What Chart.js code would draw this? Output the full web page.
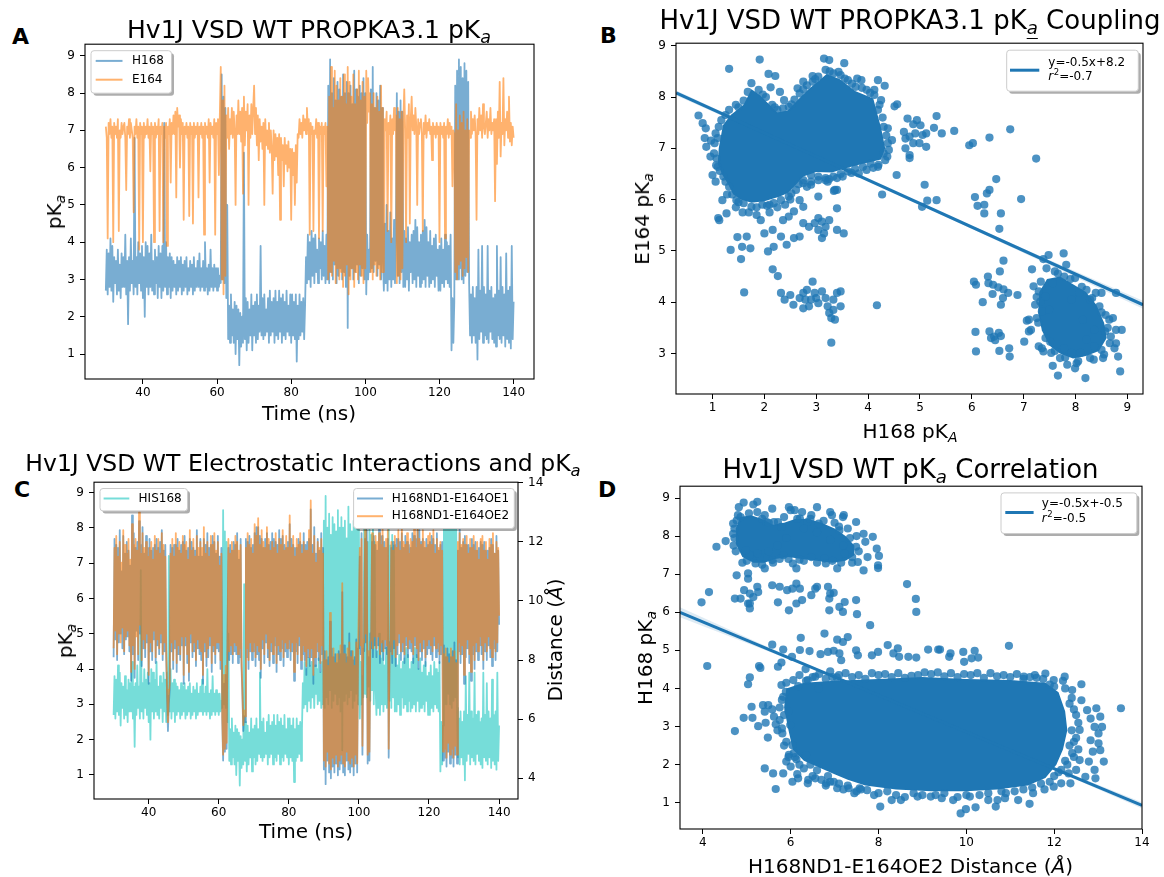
<!DOCTYPE html>
<html><head><meta charset="utf-8">
<script src="https://cdn.jsdelivr.net/npm/chart.js@4.4.0/dist/chart.umd.min.js"></script>
<style>
html,body{margin:0;padding:0;background:#fff;}
body{width:1164px;height:877px;position:relative;overflow:hidden;font-family:"DejaVu Sans",sans-serif;color:#000;}
canvas{position:absolute;}
.t{position:absolute;white-space:nowrap;line-height:1;transform:translate(-50%,-50%);}
.r{transform:translate(-50%,-50%) rotate(-90deg);}
.lbl{position:absolute;font-family:"DejaVu Sans",sans-serif;font-weight:bold;font-size:22px;line-height:1;}
.s{font-size:0.7em;position:relative;top:0.3em;font-style:italic;}
</style></head><body>
<canvas id="cA"></canvas><canvas id="cB"></canvas><canvas id="cC"></canvas><canvas id="cD"></canvas>

<div class="lbl" style="left:12px;top:26px">A</div>
<div class="lbl" style="left:600px;top:25px">B</div>
<div class="lbl" style="left:14px;top:479px">C</div>
<div class="lbl" style="left:598px;top:479px">D</div>

<div class="t" style="left:309px;top:28.5px;font-size:25px">Hv1J VSD WT PROPKA3.1 pK<span class="s">a</span></div>
<div class="t" style="left:910px;top:19.5px;font-size:26px">Hv1J VSD WT PROPKA3.1 pK<span class="s" style="text-decoration:underline;text-underline-offset:4px">a</span> Coupling</div>
<div class="t" style="left:303px;top:464px;font-size:23.5px">Hv1J VSD WT Electrostatic Interactions and pK<span class="s">a</span></div>
<div class="t" style="left:910.5px;top:468.5px;font-size:26px">Hv1J VSD WT pK<span class="s">a</span> Correlation</div>

<div class="t r" style="left:53.5px;top:212px;font-size:20px">pK<span class="s">a</span></div>
<div class="t" style="left:309px;top:413px;font-size:20px">Time (ns)</div>
<div class="t r" style="left:642px;top:219px;font-size:20px">E164 pK<span class="s">a</span></div>
<div class="t" style="left:910px;top:431px;font-size:20px">H168 pK<span class="s">A</span></div>
<div class="t r" style="left:65px;top:641px;font-size:20px">pK<span class="s">a</span></div>
<div class="t" style="left:306px;top:831px;font-size:20px">Time (ns)</div>
<div class="t r" style="left:555px;top:640px;font-size:20px">Distance (<i>Å</i>)</div>
<div class="t r" style="left:645px;top:658px;font-size:20px">H168 pK<span class="s">a</span></div>
<div class="t" style="left:910.5px;top:866px;font-size:20px">H168ND1-E164OE2 Distance (<i>Å</i>)</div>

<script>
// ---------- time series (sampled every 0.25 ns from 30 ns to 140 ns) ----------
const t0 = 30, dt = 0.25;
const h168 = [
2.7,3.8,2.6,3.7,2.8,4.1,2.7,3.9,2.4,3.6,2.9,3.5,2.6,3.8,2.7,3.4,2.5,3.7,2.8,3.6,
2.8,4.2,2.6,3.5,1.8,3.6,2.7,4.1,2.9,3.5,2.6,6.8,2.8,3.6,2.6,4.0,2.9,3.7,2.7,3.9,
2.5,3.6,2.0,4.0,2.8,3.9,2.6,3.7,2.8,4.2,2.7,3.5,2.6,3.8,2.9,3.6,2.5,3.9,2.8,3.7,
2.5,3.9,2.7,7.2,2.8,4.0,2.6,3.6,2.8,3.7,2.5,3.6,2.7,3.5,2.8,3.4,2.6,3.6,2.7,3.5,
2.8,3.6,2.6,3.4,2.7,3.5,2.8,3.6,2.6,3.3,2.7,3.5,2.8,3.4,2.6,3.6,2.7,3.3,2.8,3.5,
2.8,3.7,2.7,3.3,2.8,3.5,2.7,4.0,2.8,3.3,2.6,3.4,2.7,3.8,2.8,3.3,2.7,3.4,2.8,3.3,
2.7,3.3,2.8,3.1,2.9,8.5,3.0,7.9,2.9,7.6,2.5,5.0,1.4,2.3,1.3,2.6,1.5,2.2,1.3,2.4,
1.0,2.3,1.4,2.2,0.7,2.1,1.2,2.0,1.3,6.4,1.4,2.5,1.1,2.4,1.3,2.2,1.5,2.6,1.1,2.3,
1.5,2.4,1.3,2.6,1.4,2.3,1.6,3.9,1.5,2.5,1.4,2.6,1.5,2.2,1.6,2.5,1.3,2.7,1.5,2.4,
1.6,2.5,1.3,2.7,1.5,2.4,1.4,2.7,1.6,2.5,1.3,2.6,1.5,2.4,1.4,2.7,1.6,2.3,1.5,2.6,
1.3,2.6,1.5,2.4,1.4,2.6,0.8,2.3,1.4,2.6,1.5,2.4,1.6,2.5,1.4,2.3,3.6,2.9,4.2,3.0,
4.0,2.8,4.3,3.1,4.1,2.9,4.2,3.2,3.8,2.9,4.1,3.3,4.0,3.0,4.3,3.1,3.9,2.9,4.2,3.0,
8.2,2.9,8.9,3.2,8.0,3.0,8.4,3.4,7.8,2.9,8.3,3.1,8.1,3.3,7.9,3.0,8.5,3.2,8.0,2.8,
8.3,1.7,8.0,3.1,8.2,3.3,7.7,3.0,8.6,3.2,8.1,3.4,7.9,2.9,8.2,3.1,8.0,3.3,8.4,3.0,
8.0,2.6,4.2,3.0,3.8,3.2,8.1,3.3,8.7,3.2,7.6,3.5,8.0,3.1,7.8,3.4,8.2,3.0,7.6,3.5,
2.7,4.5,2.9,5.0,2.7,4.3,3.0,4.8,2.8,4.1,3.0,4.6,2.9,4.2,8.0,3.1,7.5,2.9,7.8,3.2,
7.5,2.8,4.3,2.8,4.1,3.0,4.4,2.7,4.0,3.2,4.2,2.9,4.3,3.0,4.6,2.8,4.4,3.1,4.0,2.8,
4.2,2.9,4.3,3.0,4.6,2.8,4.4,3.1,4.0,2.8,4.3,2.9,3.9,3.0,4.1,2.8,4.2,3.1,3.8,2.7,
3.9,2.7,4.1,2.9,3.8,2.8,4.2,3.0,4.0,2.9,3.9,2.8,4.2,1.1,2.5,1.3,2.4,8.2,3.0,8.6,
3.0,8.9,3.3,8.7,3.0,8.4,2.9,8.8,3.1,8.6,3.2,8.3,2.9,1.5,2.6,1.3,2.8,1.5,2.5,1.3,
2.8,0.85,3.8,1.4,2.7,1.6,3.9,1.3,2.8,1.5,2.6,1.4,3.9,1.3,2.7,1.6,2.8,1.4,2.5,1.3,
2.6,1.2,3.9,1.5,2.7,1.4,3.6,1.3,2.8,1.5,2.6,1.2,3.7,1.4,2.7,1.3,2.8,1.15,3.9,1.4,
2.4];
const e164 = [
7.1,6.8,4.1,7.2,6.9,7.3,6.8,7.1,4.0,7.2,6.9,7.1,6.8,7.3,4.3,7.0,6.8,7.2,6.9,7.1,
7.2,6.8,5.4,7.1,6.9,7.3,6.8,7.2,7.0,6.8,4.8,7.1,6.9,7.3,6.8,7.1,3.8,7.2,6.9,7.1,
4.0,7.2,6.8,7.1,6.9,7.3,6.8,7.1,5.9,7.2,6.9,7.1,4.0,7.2,6.8,7.1,6.9,7.3,4.3,7.1,
6.9,7.2,4.0,7.1,6.8,7.2,3.9,7.1,6.9,7.3,5.6,7.2,6.9,7.4,6.9,7.5,5.2,7.6,7.1,7.4,
6.0,7.3,6.9,7.2,4.6,7.1,6.9,7.2,6.8,7.1,4.7,7.2,6.9,7.1,4.5,7.2,6.8,7.1,6.9,7.2,
5.2,7.1,6.9,7.2,6.8,7.1,4.2,7.2,6.9,7.1,6.8,7.3,5.6,7.2,6.9,7.1,6.8,7.3,4.2,7.2,
6.9,7.3,5.8,7.4,8.7,3.0,7.8,2.6,8.2,3.1,7.4,6.8,7.6,6.5,7.3,6.9,7.6,6.8,7.5,7.0,
5.0,7.4,6.9,7.8,6.9,7.5,6.7,7.6,5.3,7.9,6.6,7.5,7.0,7.7,5.0,7.4,6.8,7.7,6.9,7.6,
8.2,6.9,7.6,6.6,7.4,6.2,7.3,6.7,7.1,6.5,7.2,5.0,7.3,6.6,7.0,6.5,7.2,6.4,7.0,6.5,
5.3,7.0,6.2,6.9,6.3,6.8,5.8,6.9,4.6,6.8,6.2,6.6,5.5,6.8,6.1,6.6,5.9,6.7,6.0,6.5,
4.6,6.5,5.8,6.4,5.0,6.6,5.6,6.9,6.8,7.3,6.9,7.2,6.8,7.4,7.0,7.3,6.9,7.6,7.0,7.3,
4.2,7.2,6.9,7.1,4.3,7.0,6.9,7.3,6.8,7.2,4.1,7.1,6.9,7.2,4.3,7.1,6.9,7.2,5.5,7.1,
3.0,7.9,3.2,8.7,3.1,7.6,3.5,8.6,2.9,8.2,3.3,7.8,3.0,8.4,3.2,7.9,2.8,8.5,3.1,7.7,
3.4,8.7,2.6,8.3,3.0,7.9,3.3,8.5,2.8,7.7,3.2,8.1,3.0,8.6,3.4,7.8,3.1,8.3,2.9,7.9,
3.3,8.6,7.2,8.4,7.5,8.0,3.2,7.7,3.0,8.0,3.4,7.6,3.1,7.9,3.3,7.5,3.0,8.2,3.2,7.6,
3.2,7.3,7.0,7.5,4.3,7.2,6.9,7.4,4.0,7.3,6.9,7.6,7.0,7.4,2.9,7.6,3.1,7.3,3.0,7.5,
3.3,7.2,8.1,7.0,4.0,7.4,6.8,7.7,4.5,7.3,7.9,7.0,7.4,6.9,7.6,7.1,5.0,7.3,6.9,7.2,
7.3,6.9,4.3,7.2,6.9,7.4,6.8,7.2,7.0,7.3,6.9,7.1,6.2,7.2,6.9,7.1,6.8,7.2,6.9,7.1,
4.0,7.2,6.9,7.1,6.8,7.2,4.1,7.1,6.9,7.3,6.8,7.2,6.9,7.1,5.5,7.0,6.9,3.2,7.7,3.0,
7.0,3.4,7.4,3.5,7.2,3.1,7.5,3.3,7.0,3.6,7.3,3.2,7.0,6.8,7.5,6.9,7.3,7.0,7.4,6.9,
4.6,7.3,6.9,7.6,7.0,7.4,6.8,7.7,7.1,6.9,7.2,7.5,6.8,7.3,7.0,7.6,6.9,7.2,7.0,7.3,
5.1,7.3,6.1,7.5,6.8,8.3,6.3,7.2,6.9,8.4,6.6,7.3,7.0,7.5,6.8,7.9,6.7,7.2,6.6,7.1,
6.8];
const oe1 = [
8.1,12.1,8.7,11.9,8.0,11.8,8.6,12.4,8.9,11.0,8.4,12.2,8.2,11.6,8.7,12.0,8.8,11.7,8.3,11.2,
7.3,12.9,8.2,12.3,7.4,11.8,9.0,12.0,8.0,12.7,8.9,11.9,7.8,12.5,8.4,11.6,8.1,12.2,8.6,11.8,
7.2,12.1,8.3,11.7,8.0,11.8,8.7,11.9,7.9,12.1,8.5,11.8,8.2,12.0,8.6,12.4,8.0,11.7,8.3,11.9,
8.1,6.8,5.6,6.5,7.0,11.9,8.3,11.8,7.7,11.9,8.4,11.9,7.6,12.1,8.2,11.7,8.0,11.9,8.5,12.0,
7.2,12.2,8.5,11.7,7.9,11.8,7.3,12.1,8.6,12.0,8.1,11.8,8.3,11.7,7.8,12.4,8.4,11.5,8.2,12.1,
8.0,11.5,7.2,12.1,8.3,11.9,7.8,12.3,8.1,11.8,8.5,11.9,7.6,12.2,8.3,12.0,7.9,11.6,8.4,12.2,
8.3,11.5,7.7,11.8,6.0,4.6,7.2,4.9,7.5,5.0,8.5,11.8,8.0,11.9,8.2,11.7,7.9,12.0,8.3,11.9,
8.2,12.3,7.9,11.4,8.1,12.1,7.8,6.8,5.6,6.1,5.9,12.1,8.1,12.0,7.7,12.2,8.3,11.8,8.0,11.9,
8.3,12.3,7.8,12.5,8.2,12.5,8.0,12.2,7.4,12.1,8.4,11.8,7.9,12.1,8.6,12.3,8.1,11.9,7.8,12.0,
8.3,12.3,7.9,12.1,8.5,12.0,7.6,11.9,8.2,12.4,8.0,12.1,8.4,12.2,7.8,11.9,8.3,11.8,8.1,12.0,
8.4,12.6,8.0,12.1,8.3,11.9,7.3,11.8,8.3,11.8,7.9,12.1,8.5,12.0,7.7,11.9,8.2,12.3,8.0,11.9,
7.5,12.0,8.1,12.1,7.8,13.1,8.1,11.9,7.2,12.5,7.8,11.6,8.3,12.1,8.0,11.7,7.6,12.3,8.2,11.8,
4.3,8.3,3.8,8.0,4.6,8.1,4.2,9.3,4.0,8.4,4.4,8.1,4.2,8.2,4.5,7.9,4.1,8.3,4.3,8.2,
4.5,10.3,4.2,8.5,4.1,8.2,4.6,8.1,4.3,8.9,4.2,8.3,4.4,8.0,4.1,8.1,4.5,8.7,4.2,8.4,
8.5,11.5,8.2,12.3,4.8,8.4,8.3,12.1,8.6,12.4,4.5,8.1,4.6,8.9,8.4,12.0,8.1,12.2,8.5,11.9,
8.1,11.7,8.5,12.6,7.9,12.2,8.3,12.2,8.0,12.0,8.4,11.8,8.2,12.1,4.7,8.6,8.3,11.8,7.9,12.0,
8.4,11.9,7.8,12.1,8.2,12.1,8.6,12.0,8.0,12.3,8.3,11.8,7.9,12.2,8.5,12.0,8.1,11.9,8.4,11.8,
8.3,12.3,7.9,12.2,8.5,12.1,8.1,12.4,7.7,12.4,8.3,12.0,8.0,12.1,8.4,11.8,7.8,12.1,8.2,11.9,
8.4,12.0,8.2,12.2,8.0,12.1,8.5,11.9,8.1,12.3,8.3,11.7,7.9,11.9,8.2,12.0,4.6,8.5,4.7,8.1,
4.4,8.4,4.9,8.2,4.5,8.1,4.7,8.3,4.4,8.6,4.8,8.0,4.5,11.7,8.3,12.6,7.9,11.8,8.2,12.0,
7.2,12.2,8.1,11.9,8.4,11.9,7.9,11.8,7.3,12.1,8.2,11.9,7.7,12.0,8.3,11.7,8.0,11.8,8.5,12.0,
8.2,11.9,7.7,12.0,8.3,11.7,8.0,11.7,8.5,11.8,8.1,12.1,7.8,11.9,8.4,11.6,8.0,12.2,8.3,11.7,
9.2];
const oe2 = [
8.4,11.8,9.0,12.2,8.2,11.5,8.9,12.0,8.6,11.3,9.1,12.4,8.3,11.9,8.8,11.6,9.0,12.1,8.5,11.4,
7.6,12.6,8.5,11.9,7.7,12.1,8.8,11.7,8.2,13.0,9.2,11.6,8.0,12.3,8.7,11.8,8.4,12.0,8.9,11.5,
7.5,11.8,8.6,12.0,8.3,11.4,9.0,12.2,8.1,11.7,8.7,12.1,8.4,11.6,8.9,12.3,8.2,11.9,8.6,11.5,
8.4,7.0,5.9,6.8,7.2,11.6,8.6,12.1,8.0,11.5,8.7,12.3,7.9,11.8,8.5,12.0,8.2,11.6,8.8,12.2,
7.5,11.9,8.8,12.0,8.2,11.4,7.6,12.4,8.9,11.7,8.3,12.1,8.6,11.5,8.0,12.2,8.7,11.8,8.4,12.0,
8.3,11.8,7.5,12.5,8.6,11.6,8.1,12.0,8.4,11.5,8.8,12.2,7.9,11.9,8.5,12.3,8.2,11.7,8.6,12.0,
8.6,11.2,8.0,11.6,6.2,4.8,7.5,5.0,7.8,5.2,8.8,12.1,8.3,11.6,8.5,12.0,8.2,11.7,8.6,12.2,
8.5,12.0,8.2,11.7,8.4,11.9,8.0,7.0,5.8,6.3,6.1,11.8,8.4,12.3,8.0,11.9,8.6,12.1,8.3,11.6,
8.6,12.6,8.1,12.2,8.5,12.8,8.3,11.9,7.7,12.4,8.7,12.0,8.2,11.8,8.9,12.5,8.4,12.1,8.0,11.7,
8.6,12.0,8.2,11.8,8.8,12.3,7.9,11.6,8.5,12.1,8.3,11.9,8.7,12.4,8.1,11.7,8.6,12.2,8.4,11.8,
8.7,12.9,8.3,11.8,8.6,12.2,7.6,11.5,8.6,12.1,8.2,11.9,8.8,12.3,8.0,11.6,8.5,12.0,8.3,11.7,
7.8,11.7,8.4,12.4,8.1,13.4,8.4,11.6,7.5,12.2,8.1,11.3,8.6,12.0,8.3,11.8,7.9,12.1,8.5,11.6,
4.6,8.0,4.4,8.3,4.9,7.8,4.5,9.6,4.3,8.1,4.7,8.4,4.5,7.9,4.8,8.2,4.4,8.0,4.6,8.5,
4.8,10.6,4.5,8.2,4.4,7.9,4.9,8.4,4.6,8.6,4.5,8.1,4.7,8.3,4.4,7.8,4.8,8.6,4.5,8.2,
8.2,11.8,8.5,12.1,5.1,8.7,8.6,12.4,8.9,12.0,4.8,8.3,4.9,8.6,8.7,12.3,8.4,11.9,8.8,12.2,
8.4,12.0,8.8,12.3,8.2,11.9,8.6,12.5,8.3,11.8,8.7,12.1,8.5,12.4,5.0,8.3,8.6,12.0,8.2,11.7,
8.7,12.2,8.1,11.8,8.5,12.4,8.9,11.7,8.3,12.6,8.6,12.0,8.2,11.9,8.8,12.3,8.4,11.6,8.7,12.1,
8.6,12.0,8.2,12.5,8.8,11.8,8.4,12.7,8.0,12.1,8.6,11.9,8.3,12.4,8.7,12.0,8.1,11.8,8.5,12.2,
8.7,12.3,8.5,11.9,8.3,12.4,8.8,11.6,8.4,12.1,8.6,11.8,8.2,12.0,8.5,11.7,4.9,8.2,5.0,8.4,
4.7,8.1,5.2,7.9,4.8,8.4,5.0,8.1,4.7,8.3,5.1,7.9,4.8,12.0,8.6,12.3,8.2,11.9,8.5,12.1,
7.5,11.9,8.4,12.2,8.7,11.6,8.2,12.1,7.6,11.8,8.5,12.2,8.0,11.7,8.6,12.0,8.3,11.4,8.8,12.1,
8.5,12.2,8.0,11.7,8.6,12.0,8.3,11.4,8.8,12.1,8.4,11.9,8.1,12.3,8.7,11.6,8.3,12.0,8.6,11.8,
9.5];

// ---------- tick labels ----------
const ticksTime = [40,60,80,100,120,140];
const ticksPka = [1,2,3,4,5,6,7,8,9];
const ticksPkaB = [3,4,5,6,7,8,9];
const ticksDist = [4,6,8,10,12,14];
const ticksBx = [1,2,3,4,5,6,7,8,9];
const ticksDx = [4,6,8,10,12,14];

// ---------- panel B scatter (H168 pKa, E164 pKa) ----------
const bCore = [[1.12,7.0],[1.2,7.45],[1.35,7.65],[1.6,7.85],[1.75,8.15],[1.9,8.05],[2.05,7.9],[2.25,7.7],[2.45,7.74],[2.68,7.98],[2.85,8.15],[3.05,8.32],[3.2,8.45],[3.45,8.35],[3.75,8.12],[4.1,7.97],[4.17,7.7],[4.25,7.4],[4.33,7.0],[4.25,6.78],[3.9,6.7],[3.6,6.62],[3.3,6.53],[3.0,6.54],[2.75,6.45],[2.58,6.26],[2.45,6.13],[2.3,6.06],[2.0,5.97],[1.75,5.94],[1.55,6.0],[1.4,6.1],[1.3,6.3],[1.18,6.5],[1.1,6.7]];
const bCore2 = [[7.3,4.2],[7.45,4.45],[7.7,4.5],[7.95,4.35],[8.2,4.2],[8.4,3.95],[8.55,3.6],[8.6,3.3],[8.45,3.05],[8.2,2.95],[7.95,2.9],[7.7,3.0],[7.5,3.15],[7.35,3.45],[7.28,3.8]];
const bPts = [
[0.73,7.64],[0.81,7.49],[0.87,7.39],[0.85,7.2],[0.88,7.03],[0.96,6.84],[0.97,7.15],[1.0,6.48],[1.06,6.35],[1.07,6.67],[1.19,5.99],[1.11,5.64],[1.13,5.6],[1.27,5.73],[1.28,6.1],[1.35,5.02],[1.48,5.27],[1.55,4.84],[1.57,5.08],[1.66,5.28],[1.73,5.05],[1.61,4.19],[1.32,8.55],[1.91,8.73],[2.08,8.45],[2.21,8.41],[2.12,8.19],[2.3,8.1],[2.38,7.94],
[1.93,5.6],[2.0,5.34],[2.07,4.99],[2.16,4.64],[2.26,4.51],[2.18,5.08],[2.16,5.41],[2.32,5.28],[2.43,5.12],[2.57,5.25],[2.68,5.28],[2.36,5.6],[2.47,5.67],[2.57,5.77],[2.68,5.99],[2.52,6.12],[1.7,5.75],[1.85,5.7],[1.58,5.75],[1.45,5.85],[2.1,5.75],[2.25,5.85],[2.4,5.9],
[2.75,5.54],[2.86,5.47],[2.97,5.54],[3.04,5.41],[3.11,5.57],[3.15,5.34],[3.18,5.47],[3.11,5.25],[3.25,5.6],[3.04,5.64],[3.4,5.41],[3.53,5.34],[3.4,5.83],[3.36,6.19],[3.04,6.06],[2.82,6.25],[2.75,6.32],[2.9,6.35],[3.18,6.38],[3.4,6.19],[3.34,6.17],[2.75,5.86],
[2.32,4.18],[2.39,4.05],[2.56,3.95],[2.5,4.14],[2.68,4.08],[2.75,4.18],[2.82,4.24],[2.9,4.05],[2.93,4.4],[2.97,4.18],[2.86,3.92],[2.75,3.88],[3.04,3.98],[3.11,4.21],[3.18,4.08],[3.22,3.92],[3.25,3.79],[3.29,3.69],[3.36,3.66],[3.33,4.05],[3.4,4.18],[3.47,4.21],[3.47,3.92],[3.33,3.85],[3.0,4.08],[2.79,4.05],[3.29,3.21],[4.17,3.94],
[1.32,7.75],[1.45,7.85],[1.6,7.93],[1.75,8.27],[1.89,8.14],[2.03,8.0],[2.15,7.85],[2.25,7.75],[2.36,7.78],[2.47,7.81],[2.58,7.95],[2.68,8.07],[2.82,8.23],[2.93,8.3],[3.04,8.4],[3.18,8.53],[3.33,8.46],[3.47,8.43],[3.61,8.33],[3.76,8.2],[3.88,8.18],[3.97,8.14],[4.12,8.04],[4.19,7.75],[4.3,7.42],[4.4,6.97],[4.33,6.77],[4.2,6.68],[4.05,6.7],[3.9,6.64],[3.75,6.6],[3.61,6.55],[3.47,6.5],[3.33,6.45],[3.18,6.42],[3.04,6.45],[2.9,6.48],[2.75,6.38],[2.61,6.19],[2.47,6.06],[2.32,5.99],[2.18,5.93],[2.05,5.88],[1.96,5.9],[1.85,5.85],[1.75,5.86],[1.6,5.93],[1.46,5.99],[1.38,6.1],[1.32,6.25],[1.21,6.45],[1.1,6.64],[1.03,6.9],[1.04,7.1],[1.06,7.29],[1.17,7.55],[1.25,7.65],
[4.22,7.85],[4.28,7.6],[4.35,7.25],[4.38,7.1],[4.3,6.9],[4.1,6.62],[3.68,6.52],[3.25,6.4],[2.66,6.3],[2.5,6.0],[2.1,5.9],[1.5,5.95],[1.25,6.35],[1.14,6.56],[1.08,6.8],[1.1,7.2],[1.12,7.42],[1.5,7.8],[1.68,8.1],[1.97,8.05],[2.2,7.8],[2.52,7.86],[2.75,8.15],[2.98,8.35],[3.26,8.5],[3.55,8.36],[3.69,8.26],[4.04,8.08],
[3.15,8.75],[3.25,8.72],[3.54,8.66],[3.79,8.36],[3.87,8.33],[3.43,8.49],[2.93,8.41],[2.75,8.3],[2.64,8.17],[4.19,8.33],[4.12,8.14],[4.25,7.94],[4.38,7.39],[4.46,7.16],[4.37,6.84],[4.19,6.64],[3.97,6.58],[3.82,6.51],[3.51,6.45],[3.4,6.42],[3.22,6.35],[3.04,6.38],[2.9,6.29],
[4.32,8.22],[4.51,7.82],[4.56,7.86],[4.76,7.58],[4.87,7.47],[4.94,7.55],[5.01,7.45],[4.69,7.32],[4.8,7.23],[4.91,7.29],[5.05,7.26],[5.12,7.29],[4.72,7.19],[4.72,7.0],[4.87,7.1],[4.99,7.1],[5.12,7.03],[4.8,6.81],[4.8,6.87],[4.55,6.48],[4.27,6.1],[5.09,6.29],[5.14,5.98],[5.04,5.86],[5.32,5.99],[5.32,7.63],[5.27,7.4],[5.42,7.29],[5.66,7.34],[5.95,7.06],[6.02,7.1],[6.34,7.21],[6.74,7.37],[7.24,6.8],[6.95,6.01],
[6.06,6.05],[6.11,5.88],[6.24,5.9],[6.24,5.73],[6.29,6.12],[6.34,6.19],[6.47,6.4],[6.56,5.73],[6.53,5.43],[6.61,4.81],[6.54,4.6],[6.04,4.4],[6.08,4.34],[6.31,4.5],[6.32,4.37],[6.41,4.34],[6.51,4.29],[6.61,4.25],[6.7,4.18],[6.88,4.14],[6.4,4.16],[6.21,4.0],[6.56,3.95],[6.6,4.08],[6.07,3.42],[6.08,3.04],[6.34,3.43],[6.37,3.3],[6.43,3.33],[6.52,3.4],[6.56,3.34],[6.45,3.26],[6.53,3.05],[6.72,3.1],[6.73,2.94],[7.01,3.23],[7.06,3.64],[7.1,3.43],[7.16,4.64],
[7.38,4.84],[7.48,4.92],[7.77,4.95],[7.44,4.66],[7.66,4.56],[7.78,4.5],[7.99,4.47],[7.82,4.73],[7.19,4.31],[7.33,4.4],[7.29,4.21],[8.21,4.24],[8.39,4.18],[8.5,4.18],[8.28,4.05],[8.46,3.92],[8.58,3.75],[8.78,4.18],[8.65,3.66],[8.72,3.69],[8.89,3.46],[8.78,3.46],[8.57,3.43],[8.36,3.46],[8.68,3.33],[8.78,3.2],[8.75,3.1],[8.5,3.07],[8.36,3.14],[8.28,2.91],[8.53,2.91],[8.82,2.94],[8.86,2.65],[8.19,2.52],[7.99,2.71],[8.02,2.81],[7.84,2.78],[7.7,2.91],[7.66,2.57],[7.56,2.76],[7.53,3.01],[7.35,3.1],[7.38,3.04],[7.29,3.14],[7.1,3.66],[7.14,3.46],[7.25,3.69],[7.35,3.82],[7.32,4.01],[7.51,3.23],[7.78,3.1],[7.92,3.01],[8.1,3.01],[8.21,3.27],[8.14,3.66],[7.92,4.05],[7.42,4.11],[7.49,3.85],[8.07,4.18],[7.56,4.37],
[7.6,4.6],[7.9,4.45],[8.12,4.3],[8.32,4.08],[8.5,3.8],[8.62,3.5],[8.66,3.2],[8.55,2.98],[8.35,2.88],[8.05,2.85],[7.8,2.92],[7.6,3.05],[7.42,3.3],[7.28,3.6],[7.22,3.95],[7.25,4.1]
];
const bFitX = [0.3, 9.3], bFitY = [8.08, 3.95];
const bBandX = [0.3, 3, 5, 7, 9.3], bBandHi = [8.13, 6.86, 5.94, 5.04, 4.03], bBandLo = [8.03, 6.82, 5.90, 4.96, 3.87];

// ---------- panel D scatter (OE2 distance, H168 pKa) ----------
const dCore = [[5.9,4.0],[6.3,4.15],[7.0,4.2],[8.0,4.25],[9.0,4.3],[10.0,4.25],[11.0,4.22],[11.8,4.15],[12.1,3.9],[12.25,3.4],[12.3,2.9],[12.2,2.4],[12.05,2.0],[11.8,1.65],[11.4,1.45],[10.7,1.35],[10.0,1.3],[9.2,1.3],[8.4,1.35],[7.7,1.45],[7.3,1.6],[7.0,1.75],[6.7,1.9],[6.3,2.1],[6.05,2.4],[5.95,2.9],[5.85,3.5]];
const dCoreTop = [[4.75,8.2],[4.85,8.5],[5.1,8.55],[5.35,8.45],[5.6,8.3],[5.85,8.35],[6.1,8.45],[6.4,8.45],[6.7,8.35],[7.0,8.2],[7.25,8.0],[7.45,7.75],[7.45,7.5],[7.25,7.35],[6.95,7.3],[6.6,7.35],[6.25,7.4],[5.95,7.45],[5.65,7.4],[5.4,7.3],[5.15,7.3],[4.9,7.45],[4.75,7.8]];
const dPts = [
[4.31,7.72],[4.52,7.87],[4.69,8.33],[4.69,8.06],[4.77,8.41],[4.86,8.5],[4.82,8.76],[4.93,8.88],[5.15,8.83],[5.24,8.9],[5.24,8.63],[5.41,8.55],[5.58,8.72],[5.45,8.37],[5.62,8.37],[5.71,8.37],[5.79,8.24],[5.96,8.76],[6.0,8.68],[6.09,8.68],[6.26,8.63],[6.21,8.46],[6.47,8.55],[6.6,8.76],[6.38,8.37],[6.64,8.33],[6.9,8.63],[6.94,8.55],[7.19,8.5],[7.21,8.55],[7.11,8.15],[7.49,8.37],[7.66,8.06],[7.87,7.98],[7.96,7.67],[8.01,7.48],[7.99,7.23],[7.99,7.16],[7.66,7.1],[7.53,7.32],[7.49,7.72],[7.23,7.54],[7.06,7.15],[6.77,7.41],[6.47,7.45],[6.13,7.15],[6.05,7.28],[5.83,7.5],[5.58,7.37],[5.41,7.15],[5.2,7.28],[5.07,7.5],[4.98,7.63],[4.72,7.95],[4.75,7.6],[4.9,7.3],[5.3,7.45],[5.5,7.6],[5.7,7.75],[5.9,7.95],[6.3,8.2],[6.6,8.1],[6.9,7.9],[7.2,7.75],[7.4,7.45],[6.95,7.35],[6.6,7.3],[6.3,7.35],[5.95,7.4],[5.6,7.3],[5.25,7.55],[4.8,8.55],[5.05,8.6],[5.35,8.45],[5.85,8.5],[6.15,8.45],[6.75,8.4],[7.0,8.35],[7.3,8.2],[7.5,8.0],[7.7,7.85],[7.75,7.45],[7.55,7.6],[7.35,7.95],[7.1,8.25],[6.45,8.45],[5.5,8.35],[4.72,8.2],[4.7,7.75],[5.0,7.35],[5.35,7.25],[5.75,7.4],[6.2,7.38],[6.8,7.28],[7.15,7.3],[7.4,7.3],
[4.77,6.97],[5.03,7.02],[5.03,6.88],[4.73,6.36],[4.86,6.36],[4.94,6.58],[5.07,6.49],[5.15,6.4],[5.03,6.23],[5.07,6.1],[5.26,6.53],[5.24,6.67],[5.07,6.23],[3.97,6.26],[4.14,6.53],[4.1,4.59],[5.58,6.71],[5.75,6.67],[5.92,6.58],[6.13,6.75],[6.21,6.62],[6.04,6.62],[5.71,6.26],[5.96,6.05],[6.13,6.23],[6.26,6.32],[6.47,6.45],[6.56,6.62],[6.6,6.67],[6.85,6.67],[6.9,6.49],[6.98,6.51],[6.88,6.36],[6.88,6.05],[7.11,6.14],[7.19,6.01],[7.23,6.27],[7.49,6.32],[7.51,5.95],[7.81,5.66],[8.65,6.74],[8.85,6.35],[8.86,6.01],
[6.77,5.44],[7.06,5.28],[7.3,5.35],[7.19,5.22],[6.23,5.33],[5.58,5.15],[5.83,5.02],[6.21,5.01],[6.43,4.98],[6.03,4.83],[6.68,4.9],[6.85,4.96],[6.98,4.99],[7.11,4.92],[7.15,4.74],[7.49,5.0],[7.53,4.87],[7.85,4.87],[7.99,4.96],[8.21,5.14],[8.34,4.92],[8.44,5.05],[8.47,4.83],[8.68,4.83],[8.86,4.81],[9.13,5.02],[9.36,5.02],[9.4,5.02],[9.64,4.92],[9.61,4.83],[9.93,4.96],[9.95,4.7],[10.12,4.79],[10.19,4.99],[10.27,4.81],[10.97,5.12],[6.34,4.51],[5.79,4.68],[5.71,4.57],[5.28,4.59],[5.31,4.54],[5.07,4.29],[5.03,4.11],[6.56,4.31],[7.05,4.29],
[5.37,3.56],[5.49,3.56],[5.58,3.45],[5.41,3.39],[5.62,3.26],[5.75,3.17],[5.11,3.52],[4.93,3.23],[5.13,3.23],[5.26,3.01],[5.43,3.1],[5.48,2.71],[4.73,2.88],[5.66,3.06],[5.81,2.82],[5.83,3.78],[5.79,4.09],[5.89,3.91],[6.06,4.22],[6.17,4.06],[6.39,4.22],[6.64,4.0],[5.99,3.04],[6.04,2.51],[6.07,2.3],[5.9,2.08],[5.96,2.26],[6.13,2.14],[5.83,1.77],[5.6,1.77],[5.41,1.9],[5.66,1.36],[6.04,1.55],[6.17,1.64],[6.39,1.51],[6.56,1.64],[6.81,1.51],[6.98,1.55],[7.06,1.38],[7.32,1.38],[7.45,1.25],[7.57,1.38],[7.74,1.33],[8.04,0.9],[8.3,1.07],[8.51,1.07],[8.89,1.16],[9.19,1.16],[9.44,1.12],[9.7,1.07],[9.87,0.72],[9.99,0.83],[10.21,0.88],[10.08,1.16],[10.5,1.07],[10.67,0.9],[10.71,1.07],[10.88,1.12],[11.18,1.07],[11.44,0.97],[11.52,1.25],[11.78,1.35],[11.99,1.42],[12.16,1.51],[12.37,1.51],[12.71,1.68],[12.94,1.64],[12.79,2.08],[12.92,1.86],[13.13,2.08],[12.88,2.34],[13.05,2.38],[13.01,2.56],[12.83,2.64],[13.01,2.82],[12.92,2.99],[13.05,3.26],[12.96,3.48],[12.75,3.43],[12.83,3.21],[12.62,3.69],[12.41,3.96],[12.62,4.11],[12.24,4.31],[11.99,4.22],[11.8,4.39],[11.56,4.35],[11.31,4.31],[13.52,3.48],[13.09,2.99],[12.58,2.91],[12.58,2.12],[12.41,2.3],[12.5,1.86],[12.33,1.77],[12.16,1.86],[12.45,2.6],[12.5,3.3],[12.35,3.6],[12.55,2.4],
[6.5,4.3],[6.8,4.25],[7.1,4.35],[7.4,4.3],[7.7,4.25],[8.0,4.35],[8.3,4.3],[8.6,4.28],[8.9,4.35],[9.2,4.38],[9.5,4.32],[9.8,4.3],[10.1,4.35],[10.4,4.28],[10.7,4.32],[11.0,4.3],[11.3,4.25],[11.6,4.28],[6.9,4.45],[9.35,4.42],[10.55,4.4],[12.0,4.05],
[6.2,4.35],[6.35,4.2],[6.65,4.38],[6.95,4.3],[7.25,4.4],[7.55,4.35],[7.85,4.4],[8.15,4.38],[8.45,4.4],[8.75,4.33],[9.05,4.42],[9.65,4.4],[9.95,4.38],[10.25,4.4],[10.85,4.35],[11.15,4.38],[11.45,4.3],[11.75,4.25],[11.9,4.1],
[7.2,1.35],[7.5,1.3],[7.9,1.2],[8.2,1.3],[8.6,1.15],[9.0,1.2],[9.5,1.25],[10.0,1.2],[10.5,1.25],[10.8,1.3],[11.1,1.3],[11.5,1.4],[11.9,1.55],[12.1,1.8],[6.8,1.45],[6.4,1.6],
[12.3,2.0],[12.45,2.2],[12.5,2.7],[12.55,3.1],[12.45,3.45],[12.4,3.75],[12.25,4.0],[12.2,4.2],
[5.8,3.7],[5.85,3.3],[5.8,2.95],[5.85,2.5],[5.95,2.2],[5.75,3.5],[5.7,2.9],[5.9,4.15],
[6.3,1.9],[6.5,1.7],[6.7,1.6],[6.9,1.55],[6.2,2.0],[6.45,2.0],[6.6,1.85],[6.85,1.7],[7.1,1.5],[6.1,2.2],[6.35,2.25],[6.15,1.75],[6.0,1.95],[7.3,1.45],[7.6,1.35],[8.0,1.25],[8.4,1.2],[8.8,1.25],[9.3,1.2],[9.8,1.15],[10.3,1.2],[10.9,1.25],[11.3,1.35],[11.7,1.5],[12.0,1.7],[12.25,2.1],[12.35,2.5],[12.4,2.9],[5.95,3.4],[5.9,2.6]
];
const dFitX = [3.48, 14], dFitY = [6.0, 0.93];
const dBandX = [3.48, 6, 9, 12, 14], dBandHi = [6.13, 4.82, 3.36, 1.93, 1.01], dBandLo = [5.87, 4.75, 3.32, 1.86, 0.85];

// ---------- styling / helpers ----------
const FONT = 'DejaVu Sans';
Chart.defaults.font.family = FONT;
Chart.defaults.color = '#000';
const BLUE_A = 'rgba(31,119,180,0.6)', ORANGE_A = 'rgba(255,127,14,0.6)', CYAN = 'rgba(72,209,204,0.75)';

function ax(pos, min, max, ticks, size) {
  const horiz = pos === 'bottom';
  return {
    type: 'linear', position: pos, min: min, max: max,
    afterBuildTicks: function (s) { s.ticks = ticks.map(function (v) { return { value: v }; }); },
    afterFit: function (s) { if (horiz) s.height = size; else s.width = size; },
    ticks: { autoSkip: false, maxRotation: 0, minRotation: 0, padding: horiz ? 2 : 5, color: '#000', font: { family: FONT, size: 12 } },
    grid: { drawOnChartArea: false, drawTicks: true, tickLength: 5, color: '#000', lineWidth: 1 },
    border: { display: false }
  };
}
function series(vals, color, order, axisId) {
  return { type: 'line', showLine: true, data: vals.map(function (v, i) { return { x: t0 + i * dt, y: v }; }),
    borderColor: color, borderWidth: 1.8, pointRadius: 0, tension: 0, fill: false,
    borderJoinStyle: 'round', clip: 0, order: order, yAxisID: axisId || 'y' };
}
function dots(pts) {
  return { type: 'scatter', data: pts.map(function (p) { return { x: p[0], y: p[1] }; }),
    backgroundColor: 'rgba(31,119,180,0.8)', borderWidth: 0, pointRadius: 4.1, pointHoverRadius: 4.1, clip: 0, order: 5 };
}
function xy(xs, ys) { return xs.map(function (x, i) { return { x: x, y: ys[i] }; }); }
function fitSets(fx, fy, bx, bhi, blo) {
  return [
    { type: 'line', showLine: true, data: xy(bx, bhi), borderWidth: 0, pointRadius: 0, fill: '+1', backgroundColor: 'rgba(31,119,180,0.15)', clip: 0, order: 2 },
    { type: 'line', showLine: true, data: xy(bx, blo), borderWidth: 0, pointRadius: 0, fill: false, clip: 0, order: 2 },
    { type: 'line', showLine: true, data: xy(fx, fy), borderColor: '#1f77b4', borderWidth: 3, pointRadius: 0, fill: false, clip: 0, order: 1 }
  ];
}
function rr(ctx, x, y, w, h, r) {
  ctx.beginPath(); ctx.moveTo(x + r, y); ctx.arcTo(x + w, y, x + w, y + h, r); ctx.arcTo(x + w, y + h, x, y + h, r);
  ctx.arcTo(x, y + h, x, y, r); ctx.arcTo(x, y, x + w, y, r); ctx.closePath();
}
function frame(c) {
  const ctx = c.ctx, a = c.chartArea;
  ctx.save(); ctx.strokeStyle = '#000'; ctx.lineWidth = 1.1;
  ctx.strokeRect(a.left, a.top, a.right - a.left, a.bottom - a.top); ctx.restore();
}
function fillPoly(c, poly) {
  const ctx = c.ctx, a = c.chartArea, sx = c.scales.x, sy = c.scales.y;
  ctx.save(); ctx.beginPath(); ctx.rect(a.left, a.top, a.right - a.left, a.bottom - a.top); ctx.clip();
  ctx.beginPath();
  poly.forEach(function (p, i) { const px = sx.getPixelForValue(p[0]), py = sy.getPixelForValue(p[1]); if (i) ctx.lineTo(px, py); else ctx.moveTo(px, py); });
  ctx.closePath(); ctx.fillStyle = 'rgb(31,119,180)'; ctx.fill(); ctx.restore();
}
function legendBox(c, x, y, w, h) {
  const ctx = c.ctx, a = c.chartArea, X = a.left + x, Y = a.top + y;
  ctx.save();
  ctx.fillStyle = 'rgba(0,0,0,0.32)'; rr(ctx, X + 2.5, Y + 2.5, w, h, 3); ctx.fill();
  ctx.fillStyle = '#fff'; rr(ctx, X, Y, w, h, 3); ctx.fill();
  ctx.strokeStyle = '#cccccc'; ctx.lineWidth = 1; ctx.stroke();
  ctx.restore();
}
function swatch(c, x1, x2, y, color, lw) {
  const ctx = c.ctx, a = c.chartArea;
  ctx.save(); ctx.strokeStyle = color; ctx.lineWidth = lw; ctx.beginPath();
  ctx.moveTo(a.left + x1, a.top + y); ctx.lineTo(a.left + x2, a.top + y); ctx.stroke(); ctx.restore();
}
function label(c, str, x, y) {
  const ctx = c.ctx, a = c.chartArea;
  ctx.save(); ctx.fillStyle = '#000'; ctx.font = '12px "DejaVu Sans"'; ctx.textBaseline = 'middle'; ctx.textAlign = 'left';
  ctx.fillText(str, a.left + x, a.top + y); ctx.restore();
}
function labelR2(c, rest, x, y) {
  const ctx = c.ctx, a = c.chartArea; let X = a.left + x; const Y = a.top + y;
  ctx.save(); ctx.fillStyle = '#000'; ctx.textBaseline = 'middle'; ctx.textAlign = 'left';
  ctx.font = 'italic 12px "DejaVu Sans"'; ctx.fillText('r', X, Y); X += ctx.measureText('r').width + 0.5;
  ctx.font = '8.5px "DejaVu Sans"'; ctx.fillText('2', X, Y - 4); X += ctx.measureText('2').width;
  ctx.font = '12px "DejaVu Sans"'; ctx.fillText(rest, X, Y); ctx.restore();
}

function panel(id, rect, pad, scales, datasets, under, over) {
  const cv = document.getElementById(id);
  const W = rect[2] - rect[0] + pad[0] + pad[2], H = rect[3] - rect[1] + pad[1] + pad[3];
  cv.width = W; cv.height = H; cv.style.width = W + 'px'; cv.style.height = H + 'px';
  cv.style.left = (rect[0] - pad[0]) + 'px'; cv.style.top = (rect[1] - pad[1]) + 'px';
  return new Chart(cv, {
    type: 'scatter',
    data: { datasets: datasets },
    options: {
      responsive: false, maintainAspectRatio: false, animation: false, devicePixelRatio: 1, events: [],
      layout: { padding: { left: 0, top: pad[1], right: scales.y2 ? 0 : pad[2], bottom: 0 } },
      scales: scales,
      plugins: { legend: { display: false }, tooltip: { enabled: false }, title: { display: false } }
    },
    plugins: [{ id: 'deco_' + id,
      beforeDatasetsDraw: function (c) { if (under) under(c); },
      afterDraw: function (c) { frame(c); if (over) over(c); } }]
  });
}

// ---------- Panel A ----------
panel('cA', [85, 44, 534, 379], [48, 12, 12, 30],
  { x: ax('bottom', 24.38, 145.5, ticksTime, 30), y: ax('left', 0.33, 9.31, ticksPka, 48) },
  [series(h168, BLUE_A, 2), series(e164, ORANGE_A, 1)],
  null,
  function (c) {
    legendBox(c, 6, 6.5, 80.5, 42.5);
    swatch(c, 10.7, 37.5, 16.7, BLUE_A, 2); label(c, 'H168', 47, 16.7);
    swatch(c, 10.7, 37.5, 35.5, ORANGE_A, 2); label(c, 'E164', 47, 35.5);
  });

// ---------- Panel B ----------
panel('cB', [676, 43, 1143, 394], [48, 12, 12, 30],
  { x: ax('bottom', 0.296, 9.30, ticksBx, 30), y: ax('left', 2.21, 9.05, ticksPkaB, 48) },
  [dots(bPts)].concat(fitSets(bFitX, bFitY, bBandX, bBandHi, bBandLo)),
  function (c) { fillPoly(c, bCore); fillPoly(c, bCore2); },
  function (c) {
    legendBox(c, 330.7, 7, 131.6, 41);
    swatch(c, 334, 363.3, 27, '#1f77b4', 3);
    label(c, 'y=-0.5x+8.2', 372.3, 19.7); labelR2(c, '=-0.7', 372.3, 33.7);
  });

// ---------- Panel C ----------
panel('cC', [94, 482, 518, 799], [48, 12, 40, 30],
  { x: ax('bottom', 24.4, 145.4, ticksTime, 30), y: ax('left', 0.32, 9.29, ticksPka, 48), y2: ax('right', 3.30, 14.02, ticksDist, 40) },
  [series(h168, CYAN, 3, 'y'), series(oe1, BLUE_A, 2, 'y2'), series(oe2, ORANGE_A, 1, 'y2')],
  null,
  function (c) {
    legendBox(c, 6, 6.3, 87.5, 22.4);
    swatch(c, 9.6, 35.3, 16.3, CYAN, 2); label(c, 'HIS168', 44.6, 16.3);
    legendBox(c, 259.6, 6.3, 160.7, 40);
    swatch(c, 263, 289, 16.3, BLUE_A, 2); label(c, 'H168ND1-E164OE1', 297.8, 16.3);
    swatch(c, 263, 289, 34, ORANGE_A, 2); label(c, 'H168ND1-E164OE2', 297.8, 34);
  });

// ---------- Panel D ----------
panel('cD', [680, 486, 1142, 829], [48, 12, 12, 30],
  { x: ax('bottom', 3.48, 14, ticksDx, 30), y: ax('left', 0.31, 9.31, ticksPka, 48) },
  [dots(dPts)].concat(fitSets(dFitX, dFitY, dBandX, dBandHi, dBandLo)),
  function (c) { fillPoly(c, dCore); fillPoly(c, dCoreTop); },
  function (c) {
    legendBox(c, 321, 6.7, 135.8, 40.6);
    swatch(c, 325.3, 353.6, 26.3, '#1f77b4', 3);
    label(c, 'y=-0.5x+-0.5', 361.8, 17.3); labelR2(c, '=-0.5', 361.8, 33);
  });
</script>
</body></html>
